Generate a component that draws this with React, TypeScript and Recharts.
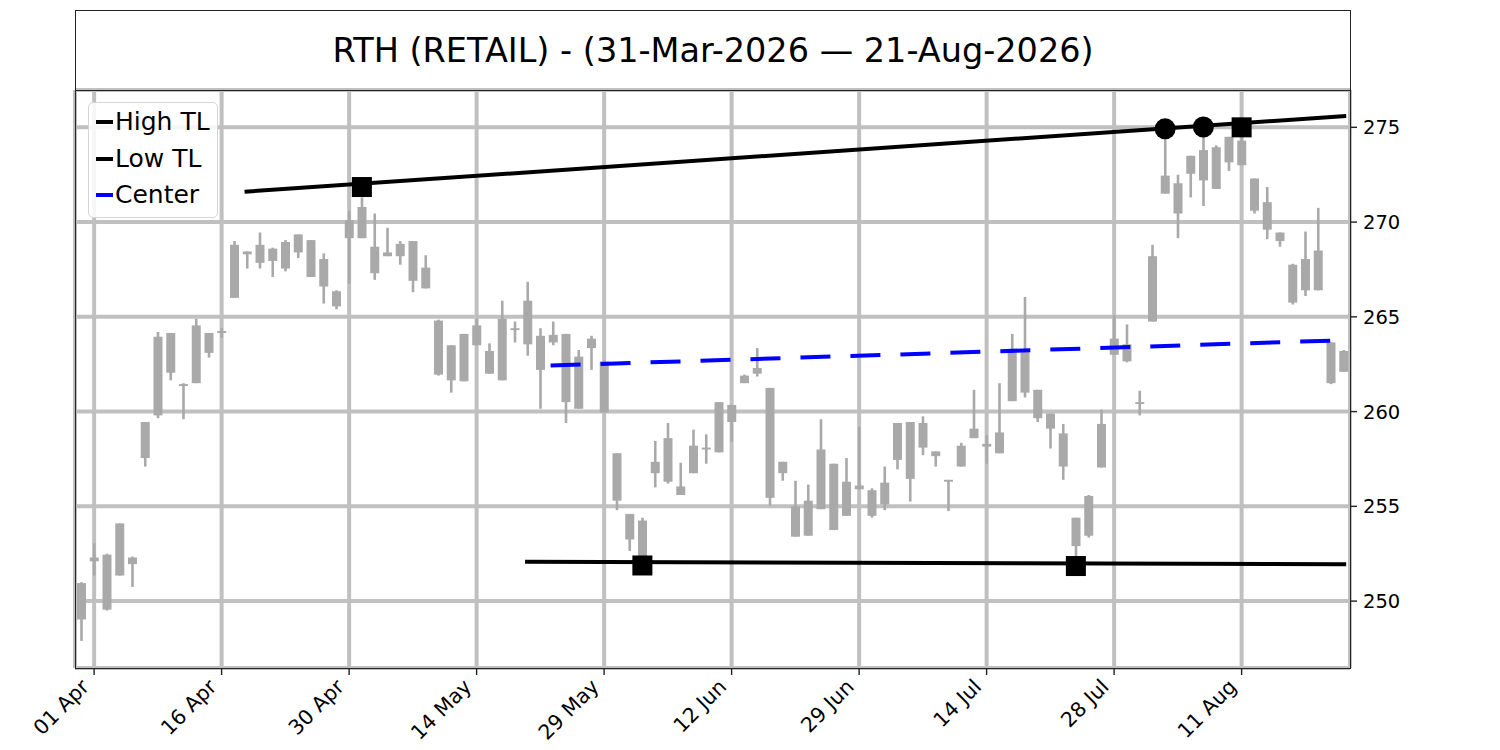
import React from 'react';
import { ComposedChart, Bar, XAxis, YAxis, CartesianGrid, ReferenceLine, Scatter } from 'recharts';

const TITLE = 'RTH (RETAIL) - (31-Mar-2026 — 21-Aug-2026)';
const FONT = '"DejaVu Sans", sans-serif';
const CANDLE = '#a9a9a9';

// trading-day index of each labelled tick
const tickIdx = [1, 11, 21, 31, 41, 51, 61, 71, 81, 91];
const tickLabels = ['01 Apr', '16 Apr', '30 Apr', '14 May', '29 May', '12 Jun', '29 Jun', '14 Jul', '28 Jul', '11 Aug'];
const yTicks = [250, 255, 260, 265, 270, 275];

const opens = [
  249.03, 252.3, 249.55, 254.1, 251.95, 257.55, 259.8, 264.15, 261.35, 261.5,
  263.1, 264.15, 266.0, 268.45, 268.8, 268.6, 267.55, 269.35, 269.05, 268.05,
  265.55, 269.15, 270.8, 267.3, 268.2, 268.85, 269.0, 267.6, 264.8, 261.65,
  261.6, 264.55, 262.0, 261.65, 264.3, 265.85, 262.2, 264.05, 264.1, 260.15,
  263.85, 262.65, 257.8, 254.6, 252.35, 256.75, 258.6, 255.6, 256.75, 258.0,
  257.85, 259.45, 261.5, 262.3, 261.25, 257.35, 253.4, 253.45, 258.0, 257.25,
  254.5, 256.1, 254.5, 255.1, 259.4, 256.45, 259.4, 257.9, 256.3, 257.1,
  259.1, 258.15, 257.8, 260.55, 263.15, 261.15, 259.9, 258.85, 252.9, 253.45,
  257.05, 263.85, 263.55, 260.4, 264.75, 272.45, 270.45, 272.55, 273.8, 271.75,
  274.5, 274.3, 272.3, 271.05, 269.45, 265.75, 266.4, 268.5, 261.5, 263.2,
];
const highs = [
  251.0, 253.05, 252.5, 254.1, 252.35, 259.45, 264.2, 264.15, 261.5, 264.9,
  264.15, 264.4, 269.0, 268.45, 269.45, 268.65, 269.05, 269.35, 269.05, 268.35,
  266.4, 270.6, 271.3, 270.45, 269.7, 269.0, 269.0, 268.25, 264.85, 263.5,
  264.1, 264.9, 263.6, 265.85, 264.75, 266.85, 264.4, 264.75, 264.1, 263.25,
  264.0, 262.7, 257.8, 254.6, 254.4, 258.45, 259.4, 257.3, 259.05, 258.8,
  260.5, 260.35, 261.95, 263.35, 261.25, 257.35, 256.35, 256.15, 259.6, 257.25,
  257.55, 259.2, 255.95, 257.1, 259.4, 259.45, 259.75, 257.9, 256.4, 258.35,
  261.15, 258.75, 261.5, 264.1, 266.05, 261.15, 259.9, 259.35, 254.4, 255.6,
  260.1, 265.1, 264.6, 261.1, 268.8, 274.9, 272.5, 273.5, 275.0, 274.05,
  274.5, 275.0, 272.3, 271.85, 269.45, 267.8, 269.5, 270.75, 263.65, 263.25,
];
const lows = [
  247.9, 251.35, 249.5, 251.35, 250.75, 257.1, 259.65, 261.65, 259.6, 261.5,
  262.85, 263.9, 266.0, 267.55, 267.55, 267.1, 267.4, 268.1, 267.1, 265.7,
  265.4, 266.75, 269.15, 266.95, 268.2, 267.75, 266.3, 266.5, 261.9, 261.0,
  261.6, 263.5, 262.0, 261.65, 263.65, 262.95, 260.15, 263.5, 259.4, 260.15,
  262.2, 259.95, 254.8, 252.65, 251.9, 256.0, 256.2, 255.6, 256.75, 257.25,
  257.85, 258.4, 261.5, 261.85, 255.05, 256.35, 253.4, 253.45, 254.85, 253.75,
  254.5, 255.9, 254.4, 254.8, 256.95, 255.25, 257.7, 257.1, 254.75, 257.1,
  258.6, 257.25, 257.8, 260.55, 260.75, 259.45, 258.05, 256.4, 251.8, 253.35,
  257.05, 263.0, 262.6, 259.8, 264.75, 271.5, 269.15, 271.3, 270.85, 271.75,
  272.7, 273.0, 270.45, 269.1, 268.7, 265.65, 266.1, 266.4, 261.45, 262.1,
];
const closes = [
  250.95, 252.1, 252.45, 251.35, 252.3, 259.45, 263.95, 262.05, 261.45, 264.55,
  264.15, 264.25, 268.8, 268.3, 267.85, 267.95, 268.95, 268.4, 267.1, 266.6,
  266.35, 270.1, 269.15, 268.7, 268.4, 268.2, 266.9, 266.5, 261.95, 263.5,
  264.1, 263.5, 263.2, 264.9, 264.4, 263.55, 264.0, 263.65, 260.5, 262.9,
  263.35, 259.95, 255.3, 253.25, 254.25, 257.35, 256.3, 256.05, 258.2, 258.1,
  260.5, 260.35, 261.9, 262.0, 255.45, 256.75, 255.0, 255.3, 254.85, 253.75,
  256.3, 255.9, 255.85, 256.25, 257.45, 259.45, 258.1, 257.65, 256.4, 258.2,
  258.6, 258.3, 258.9, 263.1, 261.0, 259.65, 259.1, 257.1, 254.4, 255.55,
  259.35, 263.0, 262.65, 260.5, 268.2, 271.5, 272.05, 273.5, 272.2, 273.95,
  273.15, 273.0, 270.6, 269.6, 269.0, 267.75, 268.05, 266.4, 263.65, 262.1,
];

// trendline end points (x = trading-day index)
const highTL = [{ x: 12.8, y: 271.6 }, { x: 99.2, y: 275.6 }];
const lowTL = [{ x: 34.8, y: 252.08 }, { x: 99.2, y: 251.95 }];
const centerTL = [{ x: 36.8, y: 262.43 }, { x: 99.2, y: 263.77 }];

const squarePivots = [
  { idx: 22, v: 271.85 },
  { idx: 91, v: 275.0 },
  { idx: 44, v: 251.88 },
  { idx: 78, v: 251.85 },
];
const circlePivots = [
  { idx: 85, v: 274.92 },
  { idx: 88, v: 275.02 },
];

const candles = opens.map((o, i) => ({
  idx: i,
  open: o,
  high: highs[i],
  low: lows[i],
  close: closes[i],
  range: [lows[i], highs[i]],
}));

const Candle = (props: any) => {
  const { x, y, width, height, payload } = props;
  const top = Math.min(y, y + height);
  const h = Math.abs(height);
  const k = h / (payload.high - payload.low || 1);
  const cx = x + width / 2;
  const bodyTop = top + (payload.high - Math.max(payload.open, payload.close)) * k;
  const bodyH = Math.max(Math.abs(payload.open - payload.close) * k, 1.5);
  return (
    <g>
      <rect x={cx - 1.3} y={top} width={2.6} height={h} fill={CANDLE} />
      <rect x={x} y={bodyTop} width={width} height={bodyH} fill={CANDLE} />
    </g>
  );
};

const SquareMark = (p: any) => <rect x={p.cx - 10} y={p.cy - 10} width={20} height={20} fill="#000" />;
const CircleMark = (p: any) => <circle cx={p.cx} cy={p.cy} r={10.5} fill="#000" />;

const XTick = ({ x, y, payload }: any) => {
  const label = tickLabels[tickIdx.indexOf(payload.value)];
  return (
    <g transform={`translate(${x - 4},${y + 11})`}>
      <text x={0} y={0} textAnchor="end" transform="rotate(-45)" fontSize={20.5} fontFamily={FONT} fill="#000">
        {label}
      </text>
    </g>
  );
};

const legendItems = [
  { name: 'High TL', color: '#000' },
  { name: 'Low TL', color: '#000' },
  { name: 'Center', color: '#0000ff' },
];

export default function App() {
  return (
    <div style={{ position: 'absolute', left: 0, top: 0, width: 1500, height: 750, background: '#fff', fontFamily: FONT }}>
      <ComposedChart width={1500} height={750} data={candles} margin={{ top: 90, left: 75, right: 80, bottom: 12 }}>
        <CartesianGrid stroke="#c0c0c0" strokeWidth={4} />
        <XAxis
          dataKey="idx"
          type="number"
          domain={[-0.5, 99.5]}
          ticks={tickIdx}
          interval={0}
          allowDataOverflow
          height={70}
          tickSize={7}
          tickLine={{ stroke: '#222', strokeWidth: 1.4 }}
          axisLine={false}
          tick={<XTick />}
        />
        <YAxis
          orientation="right"
          type="number"
          domain={[246.47, 276.97]}
          ticks={yTicks}
          allowDataOverflow
          width={70}
          tickSize={7}
          tickMargin={6}
          tickLine={{ stroke: '#222', strokeWidth: 1.4 }}
          axisLine={false}
          tick={{ fill: '#000', fontSize: 19.5, fontFamily: FONT }}
        />
        <Bar dataKey="range" barSize={9} shape={<Candle />} isAnimationActive={false} />
        <ReferenceLine segment={highTL} stroke="#000" strokeWidth={4} />
        <ReferenceLine segment={lowTL} stroke="#000" strokeWidth={4} />
        <ReferenceLine segment={centerTL} stroke="#0000ff" strokeWidth={4} strokeDasharray="30 20" />
        <Scatter data={squarePivots} dataKey="v" shape={SquareMark} isAnimationActive={false} />
        <Scatter data={circlePivots} dataKey="v" shape={CircleMark} isAnimationActive={false} />
      </ComposedChart>

      {/* title box and plot frame */}
      <div
        style={{
          position: 'absolute', left: 75, top: 10, width: 1276, height: 81, boxSizing: 'border-box',
          border: '1.4px solid #222', display: 'flex', alignItems: 'center', justifyContent: 'center',
          fontSize: 33.5, color: '#000',
        }}
      >
        {TITLE}
      </div>
      <div
        style={{
          position: 'absolute', left: 75, top: 90, width: 1276, height: 579, boxSizing: 'border-box',
          border: '1.4px solid #222', pointerEvents: 'none',
        }}
      />

      {/* legend */}
      <div
        style={{
          position: 'absolute', left: 88, top: 102, width: 130, height: 116, boxSizing: 'border-box',
          border: '1.2px solid #d5d5d5', borderRadius: 5, background: 'rgba(255,255,255,0.85)',
        }}
      >
        {legendItems.map((it, i) => (
          <div key={it.name} style={{ position: 'absolute', left: 7, top: 1 + i * 36.5, height: 36, display: 'flex', alignItems: 'center' }}>
            <span style={{ display: 'inline-block', width: 17, height: 4, background: it.color, marginRight: 2 }} />
            <span style={{ fontSize: 25, lineHeight: '36px', color: '#000' }}>{it.name}</span>
          </div>
        ))}
      </div>
    </div>
  );
}
